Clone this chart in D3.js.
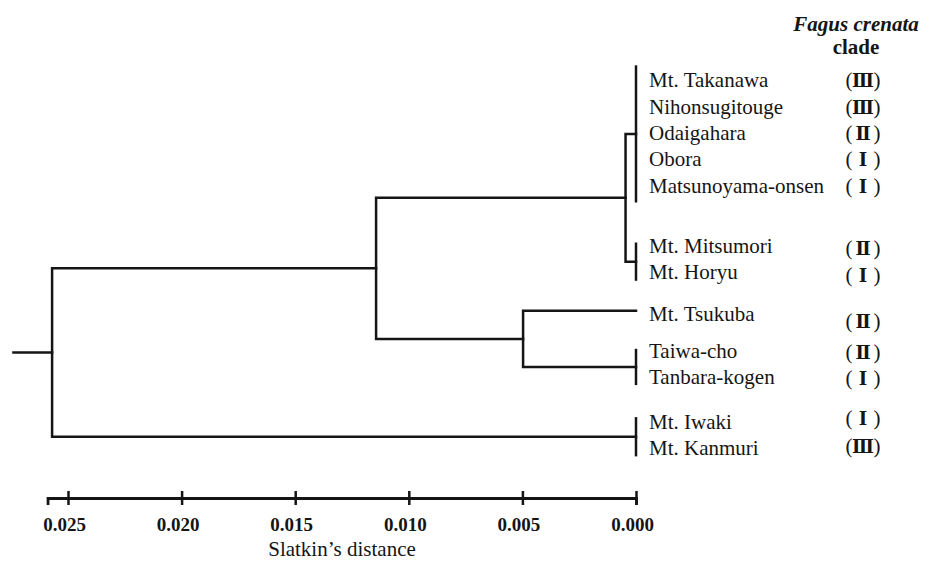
<!DOCTYPE html>
<html>
<head>
<meta charset="utf-8">
<script src="https://cdn.jsdelivr.net/npm/d3@7/dist/d3.min.js"></script>
<style>
    body { margin: 0; background: #fff; }
    svg { display: block; }
</style>
</head>
<body>
<div id="chart"></div>
<script>
// Tip labels, top to bottom
const tipNames = [
    'Mt. Takanawa', 'Nihonsugitouge', 'Odaigahara', 'Obora', 'Matsunoyama-onsen',
    'Mt. Mitsumori', 'Mt. Horyu',
    'Mt. Tsukuba',
    'Taiwa-cho', 'Tanbara-kogen',
    'Mt. Iwaki', 'Mt. Kanmuri'
];
// which terminal group each tip belongs to (groups join at distance 0)
const tipGroup = [0, 0, 0, 0, 0, 1, 1, 2, 3, 3, 4, 4];
// Fagus crenata clade for each tip
const clades = ['Ⅲ', 'Ⅲ', 'Ⅱ', 'Ⅰ', 'Ⅰ', 'Ⅱ', 'Ⅰ', 'Ⅱ', 'Ⅱ', 'Ⅰ', 'Ⅰ', 'Ⅲ'];
// merges like hclust: negative = group -(g+1), positive = earlier merge (1-based), then height
const merges = [
    [-1, -2, 0.00046],
    [-3, -4, 0.00497],
    [1, 2, 0.01144],
    [3, -5, 0.0257]
];
const rootEdge = 0.0274;
const tickValues = [0.025, 0.020, 0.015, 0.010, 0.005, 0.000];
const axisStart = 0.0259;

// layout
const width = 933, height = 561;
const serif = '"Liberation Serif", "Times New Roman", Times, serif';
const ink = '#151515';
const rowStep = 26.3, firstBaseline = 87.3;
const groupGap = [0, 33.7, 15.7, 10.7, 18.7];
// how far each group's bar reaches above first / below last tip centre
const groupExtent = [[15, 17], [3, 9], [3, -3], [2, 8], [5, 8]];
const cladeNudge = [0, 0, 0, 0, 0, 2, 3, 7, 1, 1, -4, -2];
const labelX = 649, cladeX = 863, axisY = 498;

const svg = d3.select('#chart').append('svg')
    .attr('width', width)
    .attr('height', height);

const x = d3.scaleLinear()
    .domain([0.025, 0])
    .range([68, 636]);

// baselines for tips
const baselines = [];
tipNames.forEach((n, i) => {
    if (i === 0) baselines.push(firstBaseline);
    else {
        const gap = tipGroup[i] !== tipGroup[i - 1] ? groupGap[tipGroup[i]] : 0;
        baselines.push(baselines[i - 1] + rowStep + gap);
    }
});
const centers = baselines.map(b => b - 7);

// terminal groups
const groups = d3.groups(tipNames.map((n, i) => i), i => tipGroup[i]).map(([g, idx]) => {
    const top = centers[idx[0]] - groupExtent[g][0];
    const bottom = centers[idx[idx.length - 1]] + groupExtent[g][1];
    return { h: 0, y: (top + bottom) / 2, top, bottom, size: idx.length };
});

// internal nodes
const nodes = [];
merges.forEach(([a, b, h]) => {
    const ca = a < 0 ? groups[-a - 1] : nodes[a - 1];
    const cb = b < 0 ? groups[-b - 1] : nodes[b - 1];
    nodes.push({ h, y: (ca.y + cb.y) / 2, children: [ca, cb] });
});
const root = nodes[nodes.length - 1];

const tree = svg.append('g')
    .attr('fill', 'none')
    .attr('stroke', ink)
    .attr('stroke-width', 2.5)
    .attr('stroke-linecap', 'square');

nodes.forEach(nd => {
    const [c1, c2] = nd.children;
    tree.append('path')
        .attr('d', `M${x(c1.h)},${c1.y}H${x(nd.h)}V${c2.y}H${x(c2.h)}`);
});

tree.append('line')
    .attr('x1', x(rootEdge)).attr('x2', x(root.h))
    .attr('y1', root.y).attr('y2', root.y);

groups.filter(g => g.size > 1).forEach(g => {
    tree.append('line')
        .attr('x1', x(0)).attr('x2', x(0))
        .attr('y1', g.top).attr('y2', g.bottom)
        .attr('stroke-linecap', 'butt');
});

// tip labels
svg.append('g').selectAll('text')
    .data(tipNames)
    .enter().append('text')
    .attr('x', labelX)
    .attr('y', (d, i) => baselines[i])
    .attr('font-family', serif)
    .attr('font-size', 21)
    .attr('fill', ink)
    .text(d => d);

// clade labels: parens at fixed spots, numeral centred between them
const cl = svg.append('g').selectAll('text')
    .data(clades)
    .enter().append('text')
    .attr('y', (d, i) => baselines[i] + cladeNudge[i])
    .attr('text-anchor', 'middle')
    .attr('font-family', serif)
    .attr('font-size', 21)
    .attr('fill', ink);
cl.append('tspan').attr('x', cladeX - 14).text('(');
cl.append('tspan')
    .attr('x', cladeX)
    .attr('font-family', '"DejaVu Serif", serif')
    .attr('font-weight', 'bold')
    .attr('font-size', 18)
    .text(d => d);
cl.append('tspan').attr('x', cladeX + 14).text(')');

// header
svg.append('text')
    .attr('x', 856).attr('y', 31)
    .attr('text-anchor', 'middle')
    .attr('font-family', serif)
    .attr('font-size', 21)
    .attr('font-weight', 'bold')
    .attr('font-style', 'italic')
    .attr('fill', ink)
    .text('Fagus crenata');

svg.append('text')
    .attr('x', 856).attr('y', 54)
    .attr('text-anchor', 'middle')
    .attr('font-family', serif)
    .attr('font-size', 21)
    .attr('font-weight', 'bold')
    .attr('fill', ink)
    .text('clade');

// axis
const axisScale = d3.scaleLinear()
    .domain([axisStart, 0])
    .range([x(axisStart), x(0)]);

const axis = svg.append('g')
    .attr('transform', `translate(0,${axisY})`)
    .call(d3.axisBottom(axisScale)
        .tickValues(tickValues)
        .tickFormat(d3.format('.3f'))
        .tickSizeOuter(0)
        .tickSize(7));

axis.select('.domain')
    .attr('stroke', ink)
    .attr('stroke-width', 2.8);
axis.selectAll('.tick line')
    .attr('stroke', ink)
    .attr('stroke-width', 2.5)
    .attr('y1', -7)
    .attr('y2', 7);
axis.selectAll('.tick text')
    .attr('y', 20)
    .attr('dx', -4)
    .attr('fill', ink)
    .attr('font-family', serif)
    .attr('font-size', 19)
    .attr('font-weight', 'bold');

svg.append('text')
    .attr('x', 342).attr('y', 556)
    .attr('text-anchor', 'middle')
    .attr('font-family', serif)
    .attr('font-size', 21)
    .attr('fill', ink)
    .text('Slatkin’s distance');
</script>
</body>
</html>
